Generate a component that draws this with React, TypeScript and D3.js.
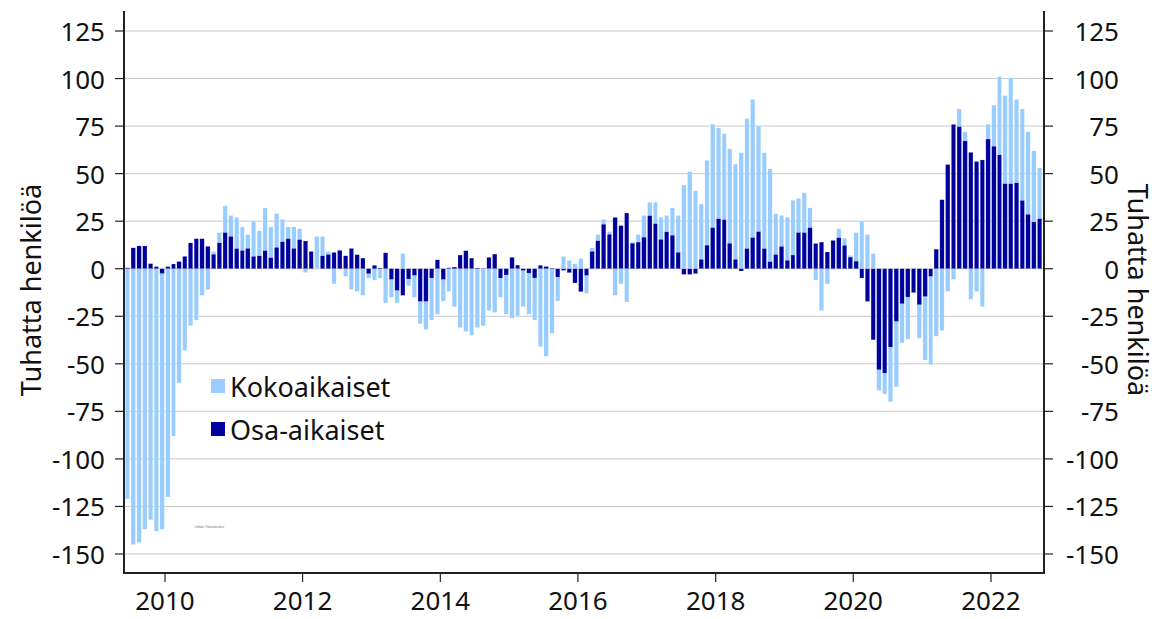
import React from 'react';
import * as d3 from 'd3';

// kuukausittainen muutos, ensimmäinen kuukausi kesäkuu 2009
const firstYear = 2009;
const firstMonth = 5;

const kokoaikaiset = [
  -121, -145, -144, -137, -132, -138, -137,
  -120, -88, -60, -43, -30, -27, -14, -11, 9, 19, 33, 28,
  27, 22, 18, 25, 20, 32, 22, 29, 26, 22, 22, 21,
  -2, 3, 17, 17, 9, -8, 10, -4, -11, -12, -14, -5,
  -6, -5, -18, -15, -18, 8, -9, -15, -29, -32, -27, -24,
  -17, -12, -20, -31, -33, -35, -31, -30, -22, -23, -15, -24,
  -26, -25, -20, -24, -27, -41, -46, -34, -17, 6.5, 4.4, 2.6,
  5.4, -13, 11, 18, 26, 19.5, -14, -8, -17.5, 14, 18, 28,
  35, 35, 27, 28, 32, 28, 44, 51, 41, 34, 57, 76,
  74, 71, 63, 55, 61, 79, 89, 75, 61, 52.5, 29, 28,
  27, 36, 37, 40, 32, -6, -22, -8, -0.5, 21, 16, 7,
  19, 25, 18, 8, -64, -66, -70, -62, -39, -37, 0.5, -36.5,
  -48, -50.5, -35.5, -32.5, -12, -5.6, 84, 72, -16, -12, -20, 76,
  86, 101, 91, 100.5, 89, 84, 72, 62, 53,
];

const osaAikaiset = [
  0.5, 11, 12, 12, 2.7, 1.1, -2.5,
  1.1, 2.5, 3.8, 6.5, 13.6, 15.8, 15.8, 11.8, 7.6, 13.6, 19, 17,
  10.6, 9.6, 10.7, 6.5, 6.8, 9.5, 5.8, 11.2, 14.2, 15.8, 10.7, 15.3,
  14.6, 9.1, 0, 6.8, 7.5, 8.6, 9.6, 6.8, 10.7, 7.4, 5.6, -2.6,
  1.8, 0.4, 8.4, -5.6, -11.4, -14, -5.4, -3.5, -17.2, -17.2, -4.9, 4.7,
  -5.6, 0.5, 0.9, 7.2, 9.5, 5.6, 0.4, 0.2, 6, 7.7, -4.9, -3.3,
  6, 1.9, -0.9, -2.3, -4.9, 1.8, 1.2, 0.3, -4.4, -0.9, -2.1, -7.5,
  -12.1, -3.5, 9.1, 14.7, 23.4, 18.1, 27, 22.7, 29.3, 13.4, 14, 16.6,
  27.9, 23.7, 15.4, 19.4, 17.6, 8.6, -3, -3, -2.6, 4.9, 12.4, 21.6,
  26.3, 25.8, 13.4, 4.9, -1.2, 10.6, 16.4, 19.5, 10.6, 3.7, 7.5, 11.7,
  4.4, 7.2, 19, 19, 21.6, 13.3, 14, 8.8, 14.9, 16.3, 12.3, 6.1,
  4, -4.9, -17.2, -37.4, -53.1, -54.9, -41.2, -27.7, -18.4, -14.9, -12.6, -18.9,
  -14.6, -4, 10.3, 36.3, 54.8, 75.9, 74.7, 67.2, 61.2, 56.4, 57.2, 68.2,
  64.4, 59.9, 44.7, 44.7, 45.2, 35.9, 28.6, 24.6, 26.3,
];

const yearTicks = [2010, 2012, 2014, 2016, 2018, 2020, 2022];
const valueTicks = [-150, -125, -100, -75, -50, -25, 0, 25, 50, 75, 100, 125];
const seriesNames = ['Kokoaikaiset', 'Osa-aikaiset'];
const seriesColors = ['#99ccff', '#00009c'];
const axisTitle = 'Tuhatta henkilöä';

const width = 1159;
const height = 619;
const plot = { left: 124, right: 1044, top: 11, bottom: 573 };
const font = '"Noto Sans", "Open Sans", sans-serif';

export default function App() {
  const x = d3.scaleTime()
    .domain([new Date(2010, 0, 1), new Date(2022, 0, 1)])
    .range([165, 991]);
  const y = d3.scaleLinear().domain([-150, 125]).range([554, 31]);

  const months = kokoaikaiset.map((_, i) => new Date(firstYear, firstMonth + i, 1));
  const barOf = (i: number, v: number) => {
    const x0 = x(new Date(firstYear, firstMonth + i, 1));
    const x1 = x(new Date(firstYear, firstMonth + i + 1, 1));
    const w = (x1 - x0) * 0.76;
    return {
      x: (x0 + x1) / 2 - w / 2,
      y: Math.min(y(v), y(0)),
      w,
      h: Math.abs(y(v) - y(0)),
    };
  };

  const series = [kokoaikaiset, osaAikaiset];

  return (
    <svg width={width} height={height} style={{ position: 'absolute', left: 0, top: 0, background: '#fff' }}
      fontFamily={font}>
      {/* gridlines */}
      <g stroke="#c8c8c8" strokeWidth={1}>
        {valueTicks.map(t => (
          <line key={t} x1={plot.left} x2={plot.right} y1={y(t)} y2={y(t)} />
        ))}
      </g>

      {/* bars */}
      {series.map((values, s) => (
        <g key={seriesNames[s]} fill={seriesColors[s]} stroke="#ffffff" strokeWidth={0.4} strokeOpacity={0.5}>
          {months.map((m, i) => {
            const b = barOf(i, values[i]);
            return <rect key={i} x={b.x} y={b.y} width={b.w} height={b.h} />;
          })}
        </g>
      ))}

      {/* axes */}
      <g stroke="#222" strokeWidth={2} fill="none">
        <line x1={plot.left} x2={plot.left} y1={plot.top} y2={plot.bottom + 1} />
        <line x1={plot.right} x2={plot.right} y1={plot.top} y2={plot.bottom + 1} />
        <line x1={plot.left - 1} x2={plot.right + 1} y1={plot.bottom} y2={plot.bottom} />
      </g>
      <g stroke="#222" strokeWidth={1.2}>
        {valueTicks.map(t => (
          <g key={t}>
            <line x1={plot.left - 9} x2={plot.left} y1={y(t)} y2={y(t)} />
            <line x1={plot.right} x2={plot.right + 9} y1={y(t)} y2={y(t)} />
          </g>
        ))}
        {yearTicks.map(t => (
          <line key={t} x1={x(new Date(t, 0, 1))} x2={x(new Date(t, 0, 1))} y1={plot.bottom} y2={plot.bottom + 9} />
        ))}
      </g>
      <g fontSize={26} fill="#111">
        {valueTicks.map(t => (
          <g key={t}>
            <text x={105} y={y(t)} textAnchor="end" dominantBaseline="central">{t}</text>
            <text x={1119} y={y(t)} textAnchor="end" dominantBaseline="central">{t}</text>
          </g>
        ))}
        {yearTicks.map(t => (
          <text key={t} x={x(new Date(t, 0, 1))} y={610} textAnchor="middle">{t}</text>
        ))}
      </g>

      {/* axis titles */}
      <text transform="translate(30,290) rotate(-90)" textAnchor="middle" dominantBaseline="central"
        fontSize={27} fill="#111">{axisTitle}</text>
      <text transform="translate(1138,290) rotate(90)" textAnchor="middle" dominantBaseline="central"
        fontSize={27} fill="#111">{axisTitle}</text>

      {/* legend */}
      {seriesNames.map((name, i) => (
        <g key={name} transform={`translate(211,${379 + i * 43})`}>
          <rect width={14} height={14} fill={seriesColors[i]} />
          <text x={19} y={7} dominantBaseline="central" fontSize={27} fill="#111">{name}</text>
        </g>
      ))}

      <text x={195} y={528} fontSize={3} fill="#666">Lähde: Tilastokeskus</text>
    </svg>
  );
}
